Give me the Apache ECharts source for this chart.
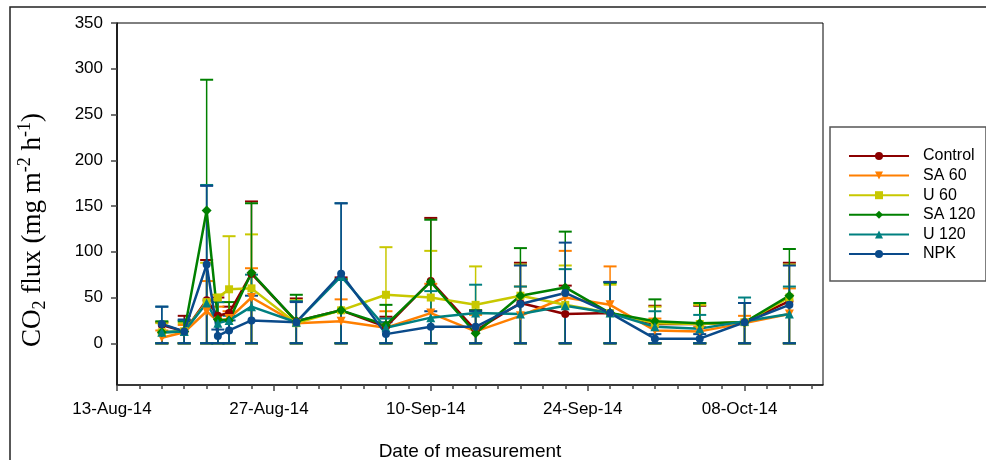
<!DOCTYPE html>
<html><head><meta charset="utf-8">
<script src="https://cdn.jsdelivr.net/npm/echarts@6/dist/echarts.min.js"></script>
<style>html,body{margin:0;padding:0;background:#fff}#c{width:986px;height:460px}</style>
</head><body><div id="c"></div>
<script>
// ---- data ----
const dates = ['2014-08-17','2014-08-19','2014-08-21','2014-08-22','2014-08-23','2014-08-25',
  '2014-08-29','2014-09-02','2014-09-06','2014-09-10','2014-09-14','2014-09-18',
  '2014-09-22','2014-09-26','2014-09-30','2014-10-04','2014-10-08','2014-10-12'];
const seriesNames = ['Control','SA 60','U 60','SA 120','U 120','NPK'];
const control = [20, 13, 47, 30, 33, 76, 24, 36, 18, 68, 14, 44, 32, 33, 21, 21, 23, 46];
const sa60    = [ 6, 12, 35, 24, 27, 50, 22, 24, 17, 33, 13, 30, 50, 42, 14, 13, 22, 32];
const u60     = [12, 13, 45, 50, 59, 60, 22, 36, 53, 50, 42, 52, 42, 33, 22, 21, 23, 50];
const sa120   = [12, 13, 145, 26, 25, 77, 24, 36, 20, 67, 11, 52, 61, 33, 24, 22, 23, 52];
const u120    = [12, 13, 44, 22, 25, 40, 23, 73, 17, 28, 33, 32, 41, 33, 18, 16, 24, 32];
const npk     = [21, 13, 86,  8, 14, 25, 23, 76, 10, 18, 18, 43, 55, 33,  5,  5, 23, 42];
// upper ends of error bars (lower ends are truncated at zero)
const controlUp = [23, 30, 91, 50, 40, 155, 49, 72, 29, 137, 36, 88, 63, 67, 41, 41, 44, 88];
const sa60Up    = [14, 20, 68, 40, 35, 82, 46, 48, 35, 65, 31, 62, 101, 84, 27, 18, 30, 60];
const u60Up     = [22, 22, 88, 53, 117, 119, 47, 70, 105, 101, 84, 86, 85, 64, 40, 42, 44, 86];
const sa120Up   = [24, 24, 288, 45, 45, 153, 53, 70, 42, 135, 36, 104, 122, 66, 48, 44, 44, 103];
const u120Up    = [40, 25, 173, 45, 30, 75, 46, 153, 27, 57, 64, 62, 81, 67, 35, 31, 50, 62];
const npkUp     = [40, 26, 172, 15, 25, 52, 45, 153, 23, 35, 35, 85, 110, 67, 10, 10, 44, 85];
const errLow = 0;
const xStartDate = '2014-08-13';
const xEndDate = '2014-10-15';
const xTickDates = ['2014-08-13','2014-08-27','2014-09-10','2014-09-24','2014-10-08'];
const yTicks = [0, 50, 100, 150, 200, 250, 300, 350];

// ---- helpers ----
const DAY = 86400000;
function ts(s){ const p = s.split('-').map(Number); return Date.UTC(p[0], p[1]-1, p[2]); }
const base = ts(xStartDate);
function dayNum(s){ return (ts(s) - base) / DAY; }
const MON = ['Jan','Feb','Mar','Apr','May','Jun','Jul','Aug','Sep','Oct','Nov','Dec'];
function fmt(v){
  const d = new Date(base + Math.round(v) * DAY);
  const dd = String(d.getUTCDate()).padStart(2,'0');
  return dd + '-' + MON[d.getUTCMonth()] + '-' + String(d.getUTCFullYear()).slice(2);
}
const xMax = dayNum(xEndDate);
const majorTicks = xTickDates.map(dayNum);
const minorTicks = [];
for (let v = 0; v <= xMax; v += 2) minorTicks.push(v);

const means = [control, sa60, u60, sa120, u120, npk];
const uppers = [controlUp, sa60Up, u60Up, sa120Up, u120Up, npkUp];
const colors = ['#8B0000', '#FF7F00', '#C8C800', '#008000', '#008080', '#0A4A8A'];
const symbols = ['circle', 'path://M0,0 L10,0 L5,9 Z', 'rect', 'diamond', 'triangle', 'circle'];
const symSizes = [8, 9, 8, 10, 9, 8];
const SANS = 'Liberation Sans, Arial, sans-serif';
const SERIF = 'Liberation Serif, Times New Roman, serif';

const series = [];
seriesNames.forEach((name, i) => {
  const col = colors[i];
  series.push({
    name: name + ' error',
    type: 'custom',
    silent: true,
    animation: false,
    data: dates.map((d, j) => [dayNum(d), uppers[i][j], errLow]),
    encode: { x: 0, y: [1, 2] },
    renderItem: function (params, api) {
      const x = api.value(0), hi = api.value(1), lo = api.value(2);
      const p1 = api.coord([x, hi]), p0 = api.coord([x, lo]);
      const hw = 6.5;
      return { type: 'group', children: [
        { type: 'line', shape: { x1: p0[0], y1: p0[1], x2: p1[0], y2: p1[1] }, style: { stroke: col, lineWidth: 1.5 } },
        { type: 'line', shape: { x1: p1[0]-hw, y1: p1[1], x2: p1[0]+hw, y2: p1[1] }, style: { stroke: col, lineWidth: 2 } },
        { type: 'line', shape: { x1: p0[0]-hw, y1: p0[1], x2: p0[0]+hw, y2: p0[1] }, style: { stroke: col, lineWidth: 2 } }
      ]};
    }
  });
  series.push({
    name: name,
    type: 'line',
    data: dates.map((d, j) => [dayNum(d), means[i][j]]),
    symbol: symbols[i],
    symbolSize: symSizes[i],
    showAllSymbol: true,
    lineStyle: { color: col, width: 2.5 },
    itemStyle: { color: col },
    emphasis: { disabled: true },
    animation: false
  });
});

const chart = echarts.init(document.getElementById('c'), null, { renderer: 'canvas' });
chart.setOption({
  backgroundColor: '#fff',
  animation: false,
  grid: { left: 117, right: 163, top: 23, bottom: 75, show: true, borderColor: '#000', borderWidth: 1, backgroundColor: 'transparent' },
  xAxis: [{
    type: 'value', min: 0, max: xMax, position: 'bottom',
    axisLine: { show: true, onZero: false, lineStyle: { color: '#222', width: 1.5 } },
    axisTick: { show: true, customValues: majorTicks, length: 6, lineStyle: { color: '#444', width: 1.5 } },
    axisLabel: { customValues: majorTicks, formatter: fmt, color: '#000', fontSize: 17, fontFamily: SANS, margin: 16, padding: [0, 10, 0, 0] },
    splitLine: { show: false }
  }, {
    type: 'value', min: 0, max: xMax, position: 'bottom', gridIndex: 0,
    axisLine: { show: false, onZero: false },
    axisTick: { show: true, customValues: minorTicks, length: 4, lineStyle: { color: '#444', width: 1.5 } },
    axisLabel: { show: false },
    splitLine: { show: false }
  }],
  yAxis: {
    type: 'value', min: -45.6, max: 350,
    axisLine: { show: true, onZero: false, lineStyle: { color: '#000', width: 1.5 } },
    axisTick: { show: true, customValues: yTicks, length: 6, lineStyle: { color: '#444', width: 1.5 } },
    axisLabel: { customValues: yTicks, color: '#000', fontSize: 17, fontFamily: SANS, margin: 14 },
    splitLine: { show: false }
  },
  legend: {
    data: seriesNames,
    orient: 'vertical',
    left: 848, top: 148,
    itemWidth: 60, itemHeight: 10, itemGap: 3.6,
    padding: 0,
    textStyle: { fontSize: 16, fontFamily: SANS, color: '#000', lineHeight: 16, padding: [0, 0, 0, 9] },
    selectedMode: false
  },
  graphic: [
    { type: 'rect', shape: { x: 10, y: 7, width: 1000, height: 500 }, style: { fill: null, stroke: '#222', lineWidth: 1.5 }, silent: true, z: 0 },
    { type: 'rect', shape: { x: 830, y: 127, width: 156, height: 154 }, style: { fill: '#fff', stroke: '#555', lineWidth: 1.5 }, silent: true, z: 0 },
    { type: 'text', x: 470, y: 452, silent: true,
      style: { text: 'Date of measurement', fontSize: 19, fontFamily: SANS, fill: '#000', align: 'center', verticalAlign: 'middle' } },
    { type: 'text', x: 33, y: 230, rotation: Math.PI / 2, silent: true,
      style: {
        text: '{n|CO}{sub|2}{n| flux (mg m}{sup|-2}{n| h}{sup|-1}{n|)}',
        align: 'center', verticalAlign: 'middle',
        rich: {
          n: { fontSize: 27, fontFamily: SERIF, lineHeight: 33, verticalAlign: 'middle', fill: '#000' },
          sub: { fontSize: 18, fontFamily: SERIF, lineHeight: 18, verticalAlign: 'bottom', fill: '#000' },
          sup: { fontSize: 18, fontFamily: SERIF, lineHeight: 18, verticalAlign: 'top', fill: '#000' }
        }
      } }
  ],
  series: series
});
</script></body></html>
